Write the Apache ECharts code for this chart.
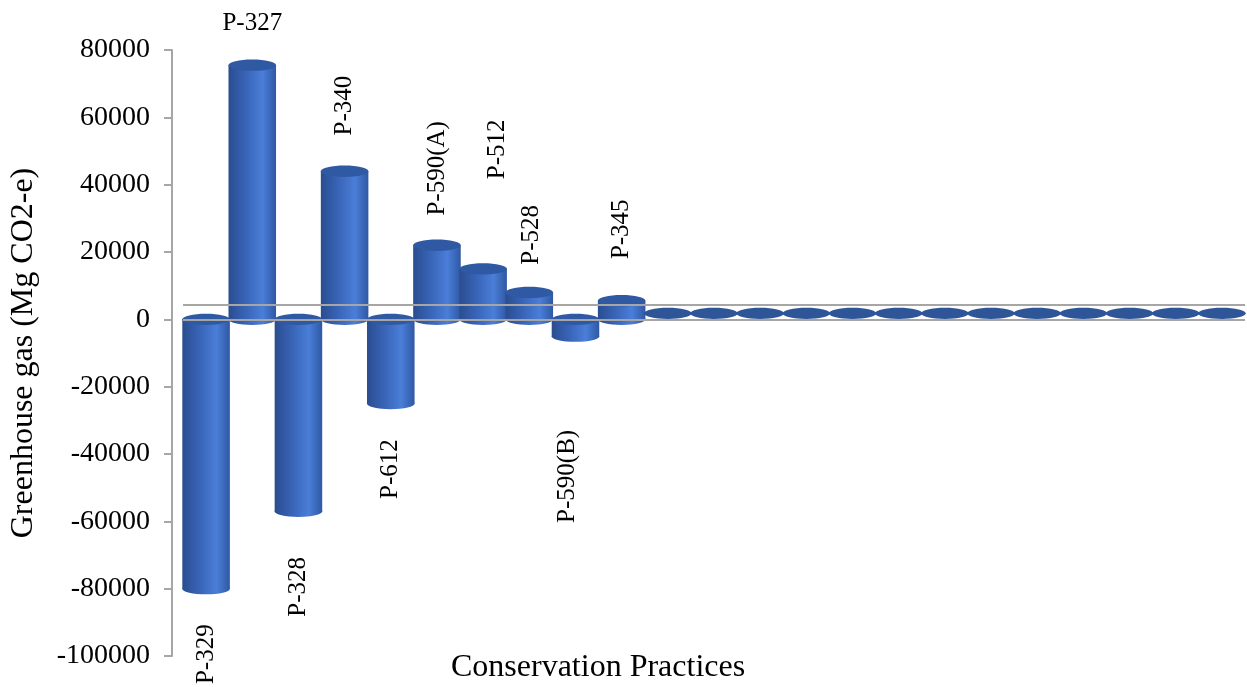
<!DOCTYPE html>
<html>
<head>
<meta charset="utf-8">
<title>Greenhouse gas by conservation practice</title>
<script src="https://cdn.jsdelivr.net/npm/echarts@6/dist/echarts.min.js"></script>
<style>
  html, body { margin: 0; padding: 0; background: #fff; }
  #chart { width: 1247px; height: 687px; }
</style>
</head>
<body>
<div id="chart"></div>
<script>
// Practice codes; the trailing blanks are practices with no net change
const practices = ['P-329', 'P-327', 'P-328', 'P-340', 'P-612', 'P-590(A)', 'P-512', 'P-528', 'P-590(B)', 'P-345',
  '', '', '', '', '', '', '', '', '', '', '', '', ''];
// Net greenhouse gas change per practice (Mg CO2-e)
const ghgValues = [-80000, 75500, -57000, 44000, -25000, 22000, 15000, 8000, -5000, 5500,
  0, 0, 0, 0, 0, 0, 0, 0, 0, 0, 0, 0, 0];
// Value axis ticks
const yMin = -100000, yMax = 80000, yStep = 20000;
// Height of the back floor edge above the zero line (value units)
const floorDepth = 4400;

// Label placement: gap from the cylinder end (px), sideways nudge (px), upright or rotated
const labelLayout = {
  'P-329': { gap: 30, dx: 0 },
  'P-327': { gap: 24, dx: 0, flat: true },
  'P-328': { gap: 40, dx: 0 },
  'P-340': { gap: 30, dx: 0 },
  'P-612': { gap: 30, dx: 0 },
  'P-590(A)': { gap: 24, dx: 0 },
  'P-512': { gap: 84, dx: 14 },
  'P-528': { gap: 22, dx: 2 },
  'P-590(B)': { gap: 88, dx: -8 },
  'P-345': { gap: 36, dx: 0 }
};

const serif = '"Liberation Serif", "Times New Roman", serif';
const bodyFill = new echarts.graphic.LinearGradient(0, 0, 1, 0, [
  { offset: 0, color: '#2a4d8f' },
  { offset: 0.35, color: '#3863b6' },
  { offset: 0.72, color: '#4a7ed8' },
  { offset: 1, color: '#2f58a4' }
]);
const capColor = '#3059a3';
const flatColor = '#2e5597';
const lineGray = '#a6a6a6';

function renderCylinder(params, api) {
  const idx = api.value(0);
  const val = api.value(1);
  const base = api.coord([idx, 0]);
  const end = api.coord([idx, val]);
  const w = api.size([1, 0])[0] * 1.03;
  const rx = w / 2;
  const ry = Math.max(4, w * 0.12);
  const cx = base[0];
  const children = [];

  if (val === 0) {
    // zero change: only the flat disc sitting on the floor
    children.push({ type: 'ellipse', shape: { cx: cx, cy: base[1] - 6, rx: rx, ry: ry }, style: { fill: flatColor } });
    return { type: 'group', children: children };
  }

  const topY = Math.min(base[1], end[1]);
  const botY = Math.max(base[1], end[1]);
  children.push({ type: 'rect', shape: { x: cx - rx, y: topY, width: w, height: botY - topY }, style: { fill: bodyFill } });
  children.push({ type: 'ellipse', shape: { cx: cx, cy: botY, rx: rx, ry: ry }, style: { fill: bodyFill } });
  children.push({ type: 'ellipse', shape: { cx: cx, cy: topY, rx: rx, ry: ry }, style: { fill: capColor } });

  const name = practices[idx];
  const lay = labelLayout[name];
  if (lay) {
    const font = '25px ' + serif;
    if (lay.flat) {
      children.push({ type: 'text', x: cx + lay.dx, y: topY - ry - lay.gap,
        style: { text: name, font: font, fill: '#000', align: 'center', verticalAlign: 'bottom' } });
    } else if (val > 0) {
      children.push({ type: 'text', x: cx + lay.dx, y: topY - ry - lay.gap, rotation: Math.PI / 2,
        style: { text: name, font: font, fill: '#000', align: 'left', verticalAlign: 'middle' } });
    } else {
      children.push({ type: 'text', x: cx + lay.dx, y: botY + ry + lay.gap, rotation: Math.PI / 2,
        style: { text: name, font: font, fill: '#000', align: 'right', verticalAlign: 'middle' } });
    }
  }
  return { type: 'group', children: children };
}

const chart = echarts.init(document.getElementById('chart'), null, { renderer: 'canvas' });
chart.setOption({
  animation: false,
  backgroundColor: '#ffffff',
  title: {
    text: 'Conservation Practices',
    left: 446, top: 647,
    textStyle: { fontFamily: serif, fontWeight: 'normal', fontSize: 32, color: '#000' }
  },
  grid: { left: 182, right: 2, top: 50, bottom: 31 },
  xAxis: {
    type: 'category',
    data: practices,
    axisLine: { show: false },
    axisTick: { show: false },
    axisLabel: { show: false },
    splitLine: { show: false }
  },
  yAxis: {
    type: 'value',
    min: yMin, max: yMax, interval: yStep,
    offset: 11,
    name: 'Greenhouse gas (Mg CO2-e)',
    nameLocation: 'middle',
    nameGap: 132,
    nameTextStyle: { fontFamily: serif, fontSize: 32, color: '#000' },
    axisLine: { show: true, lineStyle: { color: lineGray, width: 2 } },
    axisTick: { show: true, length: 8, lineStyle: { color: lineGray, width: 2 } },
    axisLabel: { fontFamily: serif, fontSize: 28, color: '#000', margin: 22, formatter: v => String(v) },
    splitLine: { show: false }
  },
  series: [
    {
      // back edge of the floor, behind the cylinders
      type: 'line', data: [], z: 1, silent: true,
      markLine: {
        silent: true, symbol: 'none', label: { show: false },
        lineStyle: { color: lineGray, width: 2, type: 'solid' },
        data: [{ yAxis: floorDepth }]
      }
    },
    {
      type: 'custom',
      renderItem: renderCylinder,
      data: ghgValues.map((v, i) => [i, v]),
      z: 3
    },
    {
      // front edge of the floor at zero, on its own layer above the cylinders
      type: 'line', data: [], zlevel: 1, silent: true,
      markLine: {
        silent: true, symbol: 'none', label: { show: false },
        lineStyle: { color: lineGray, width: 2, type: 'solid' },
        data: [{ yAxis: 0 }]
      }
    }
  ]
});
</script>
</body>
</html>
